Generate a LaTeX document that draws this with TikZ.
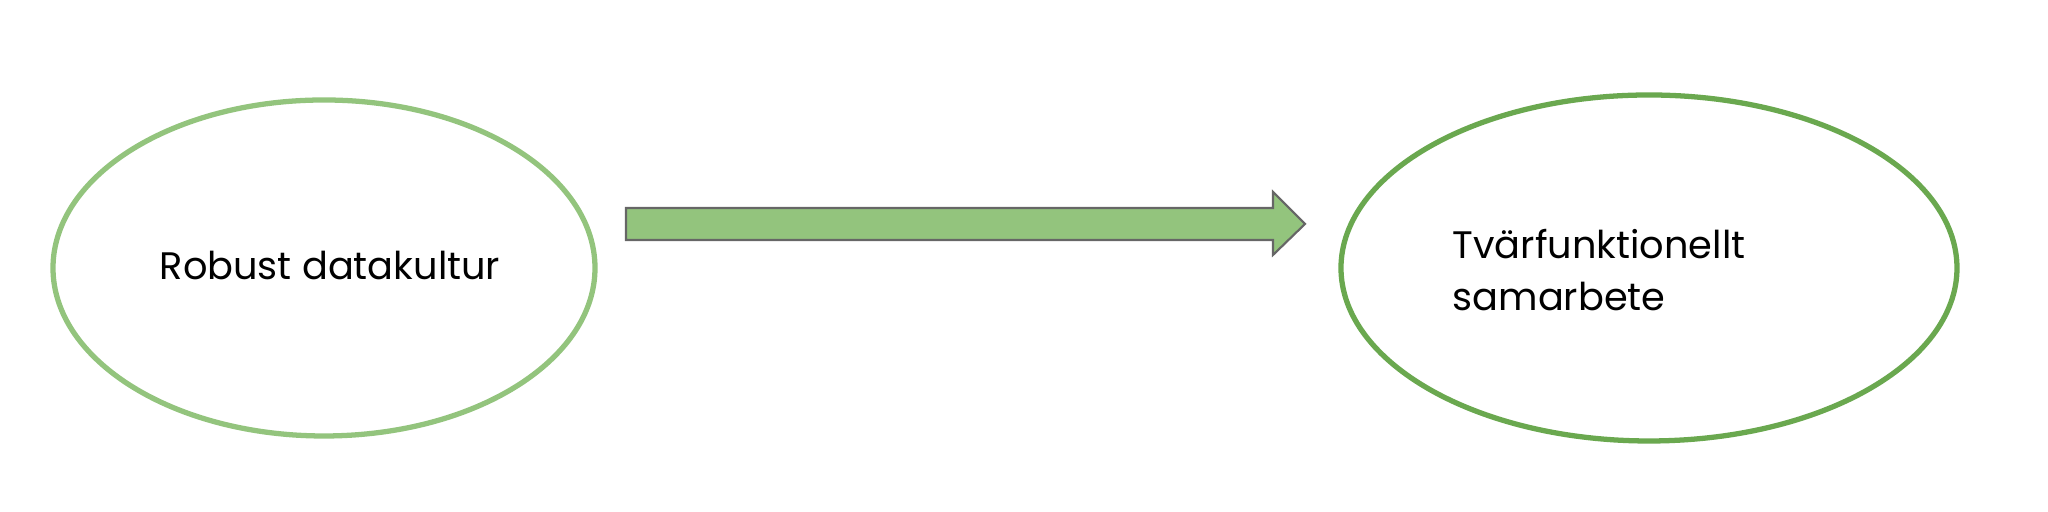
\documentclass[tikz,border=0pt]{standalone}
\usepackage{fontspec}
\setmainfont{Poppins}
\usetikzlibrary{shapes.geometric}
\definecolor{lightgreen}{HTML}{93C47D}
\definecolor{darkgreen}{HTML}{6AA84F}
\definecolor{arrowedge}{HTML}{666666}

\begin{document}
\begin{tikzpicture}
\tikzset{
  bubble/.style={ellipse,line width=1.5pt,fill=white,inner sep=0pt},
  caption/.style={font=\fontsize{10.9}{14.6}\selectfont,inner sep=0pt}
}
\useasboundingbox (0,0) rectangle (20.48,5.12);
% the two ellipses
\node[bubble,draw=lightgreen,minimum width=5.42cm,minimum height=3.36cm] (culture) at (3.24,2.44) {};
\node[bubble,draw=darkgreen,minimum width=6.16cm,minimum height=3.46cm] (collab) at (16.49,2.44) {};
% texts
\node[caption] (culturetext) at (3.30,2.46) {Robust datakultur};
\node[caption,anchor=west,align=left] (collabtext) at (14.52,2.42) {Tvärfunktionellt\\samarbete};
% block arrow
\draw[fill=lightgreen,draw=arrowedge,line width=0.6pt]
  (6.26,3.04) -- (12.73,3.04) -- (12.73,3.20) -- (13.05,2.88)
  -- (12.73,2.57) -- (12.73,2.72) -- (6.26,2.72) -- cycle;
\end{tikzpicture}
\end{document}
